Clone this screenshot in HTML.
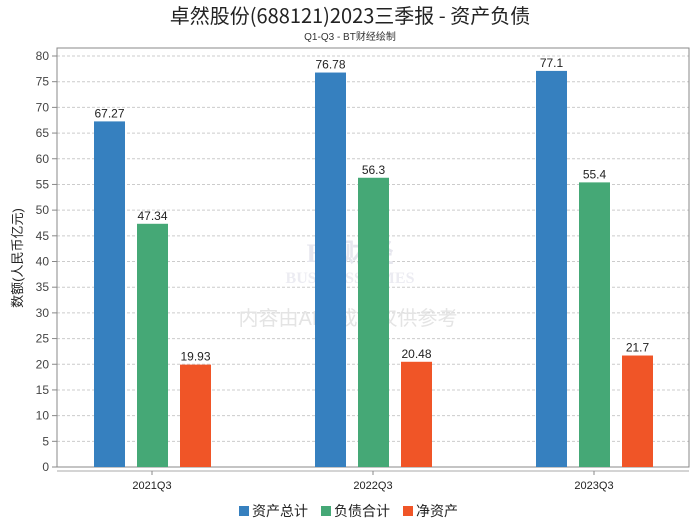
<!DOCTYPE html>
<html><head><meta charset="utf-8"><style>
body{margin:0;background:#fff;font-family:"Liberation Sans","Noto Sans CJK SC",sans-serif;}
</style></head><body>
<svg id="c" width="700" height="524" xmlns="http://www.w3.org/2000/svg" style="font-family:'Liberation Sans','Noto Sans CJK SC',sans-serif">
<text x="350" y="23" text-anchor="middle" font-size="20" fill="#222" font-family="'Noto Sans CJK SC',sans-serif">卓然股份(688121)2023三季报 - 资产负债</text>
<text x="350" y="40" text-anchor="middle" font-size="10" fill="#333">Q1-Q3 - BT财经绘制</text>
<text x="0" y="0" transform="translate(22,258) rotate(-90)" text-anchor="middle" font-size="13" fill="#222">数额(人民币亿元)</text>
<g id="grid"></g>
<rect x="57" y="48" width="632" height="419" fill="none" stroke="#888"/>
<line x1="57" y1="471" x2="689" y2="471" stroke="#aaa"/>
<text x="350" y="262" text-anchor="middle" font-size="26" font-weight="bold" fill="#e6e6ee" font-family="Liberation Serif,serif">BT财经</text>
<text x="350" y="283" text-anchor="middle" font-size="16" font-weight="bold" fill="#ececf2" font-family="Liberation Serif,serif">BUSINESSTIMES</text>
<text x="348" y="325" text-anchor="middle" font-size="20" fill="#e4e4e4">内容由AI生成，仅供参考</text>
<g id="bars"></g>
<g id="legend"></g>
</svg>
<script>
const categories=["2021Q3","2022Q3","2023Q3"];
const seriesNames=["资产总计","负债合计","净资产"];
const totalAssets=[67.27,76.78,77.1];
const totalLiabilities=[47.34,56.3,55.4];
const netAssets=[19.93,20.48,21.7];
const yTicks=[0,5,10,15,20,25,30,35,40,45,50,55,60,65,70,75,80];
const colors=["#3680bf","#45a876","#f05527"];
const series=[totalAssets,totalLiabilities,netAssets];
const NS="http://www.w3.org/2000/svg";
const y0=467,yTop=56;
function yScale(v){return y0-(v/80)*(y0-yTop);}
function xScale(i){return 152+i*221;}
function mk(t,a,p){const e=document.createElementNS(NS,t);for(const k in a)e.setAttribute(k,a[k]);p.appendChild(e);return e;}
const grid=document.getElementById('grid');
yTicks.forEach(t=>{const y=yScale(t);
 if(t>0){const l=mk('line',{x1:57,x2:689,y1:y,y2:y,stroke:'#ccc','stroke-dasharray':'3,2'},grid);
 
 }
 const tx=mk('text',{x:49,y:y+4,'text-anchor':'end','font-size':12,fill:'#444'},grid);tx.textContent=t;
 
 
 mk('line',{x1:52,x2:57,y1:y,y2:y,stroke:'#888'},grid);
});
const bars=document.getElementById('bars');
categories.forEach((c,i)=>{const cx=xScale(i);
 series.forEach((s,j)=>{const x=cx-58+j*43;const y=yScale(s[i]);
  const r=mk('rect',{x:x,y:y,width:31,height:y0-y,fill:colors[j]},bars);
  
  
  const t=mk('text',{x:x+15.5,y:y-4,'text-anchor':'middle','font-size':12,fill:'#222'},bars);t.textContent=s[i];
  
  
 });
 mk('line',{x1:cx,x2:cx,y1:471,y2:475,stroke:'#888'},bars);
 const l=mk('text',{x:cx,y:489,'text-anchor':'middle','font-size':11,fill:'#222'},bars);l.textContent=c;
 
 
});
const lg=document.getElementById('legend');
const lx=[239,321,403];
seriesNames.forEach((n,j)=>{
 const g=mk('g',{},lg);
 
 
 mk('rect',{x:lx[j],y:506,width:10,height:10,fill:colors[j]},g);
 const t=mk('text',{x:lx[j]+13,y:516,'font-size':14,fill:'#222'},g);t.textContent=n;
});
</script>
</body></html>
